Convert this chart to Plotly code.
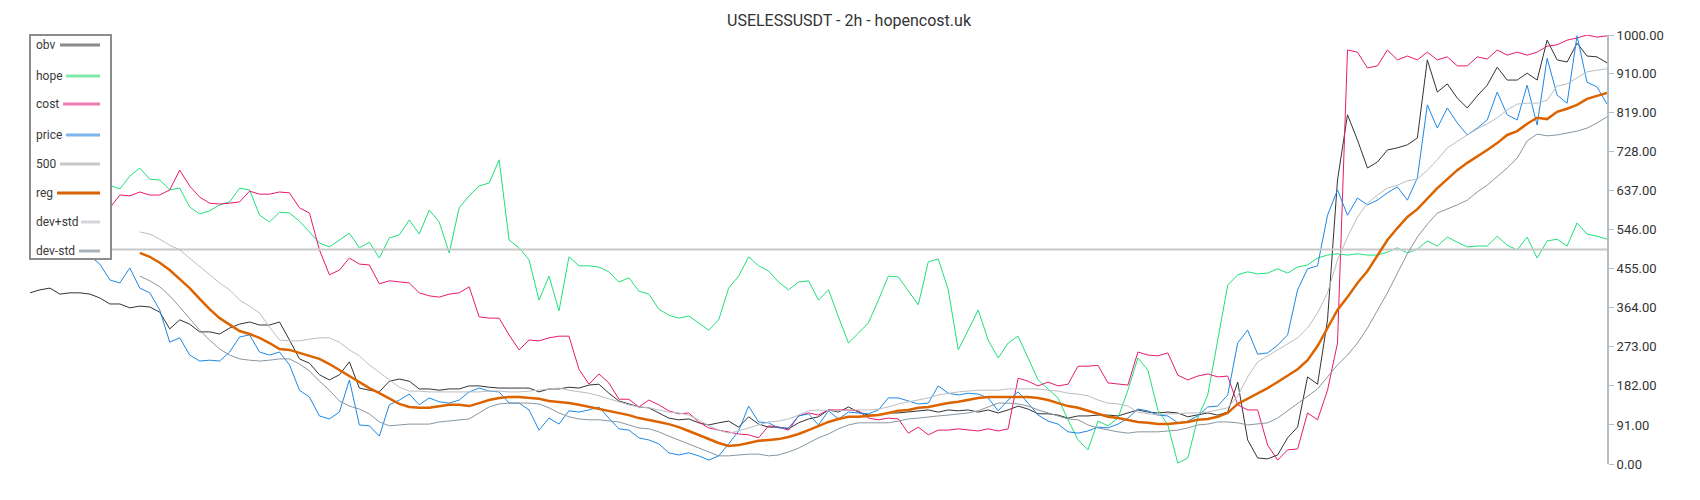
import plotly.graph_objects as go

TITLE = "USELESSUSDT - 2h - hopencost.uk"
TICK_VALUES = [0, 91, 182, 273, 364, 455, 546, 637, 728, 819, 910, 1000]
LEVEL = 500

obv = [399, 406, 410, 396, 399, 399, 396, 387, 373, 373,
       364, 368, 366, 354, 315, 336, 326, 308, 308, 303,
       317, 326, 331, 324, 324, 331, 289, 245, 235, 208,
       196, 208, 238, 177, 172, 168, 193, 198, 193, 175,
       175, 172, 175, 175, 182, 182, 179, 177, 177, 177,
       177, 168, 175, 175, 179, 177, 184, 186, 165, 147,
       140, 133, 131, 119, 107, 103, 105, 96, 91, 96,
       100, 86, 110, 93, 86, 86, 82, 96, 105, 110,
       126, 121, 133, 121, 114, 114, 119, 119, 121, 124,
       126, 121, 126, 124, 126, 121, 126, 119, 126, 135,
       128, 117, 117, 114, 107, 112, 112, 114, 114, 112,
       119, 126, 121, 119, 121, 119, 110, 114, 119, 114,
       121, 191, 56, 14, 12, 21, 61, 86, 203, 186,
       336, 662, 814, 755, 690, 704, 732, 737, 744, 760,
       942, 867, 886, 853, 830, 858, 883, 925, 895, 895,
       911, 895, 988, 942, 937, 981, 951, 949, 935]

hope = [674, 662, 681, 667, 650, 667, 657, 671, 650, 641,
        671, 690, 664, 662, 639, 643, 599, 583, 590, 604,
        611, 643, 639, 580, 564, 587, 585, 566, 541, 515,
        506, 522, 538, 504, 517, 480, 527, 534, 569, 536,
        592, 564, 492, 597, 625, 648, 655, 709, 522, 504,
        476, 382, 438, 357, 483, 462, 462, 459, 448, 424,
        434, 403, 396, 361, 347, 340, 345, 329, 312, 336,
        410, 438, 483, 462, 450, 424, 406, 424, 427, 382,
        406, 343, 282, 305, 329, 382, 438, 436, 403, 371,
        471, 478, 406, 266, 312, 359, 289, 247, 282, 298,
        247, 196, 175, 154, 103, 56, 33, 100, 89, 107,
        172, 247, 219, 126, 91, 2, 14, 107, 161, 289,
        417, 441, 448, 443, 445, 455, 445, 459, 464, 480,
        487, 490, 487, 490, 487, 487, 494, 504, 492, 501,
        520, 508, 529, 517, 506, 508, 508, 531, 510, 499,
        529, 480, 520, 524, 508, 562, 536, 531, 524]

cost = [615, 625, 611, 620, 627, 615, 606, 620, 597, 627,
        625, 634, 627, 627, 639, 685, 648, 622, 608, 606,
        608, 611, 636, 629, 629, 634, 632, 597, 585, 499,
        441, 452, 480, 466, 464, 420, 427, 424, 422, 399,
        392, 389, 396, 399, 413, 343, 340, 340, 301, 266,
        289, 287, 294, 298, 298, 221, 186, 210, 189, 151,
        151, 133, 149, 138, 124, 117, 119, 98, 84, 79,
        75, 70, 68, 61, 89, 86, 79, 112, 119, 114,
        126, 126, 126, 124, 107, 103, 107, 105, 72, 86,
        68, 79, 79, 82, 79, 77, 82, 77, 82, 200,
        193, 182, 191, 182, 186, 228, 228, 230, 189, 186,
        184, 261, 254, 252, 259, 207, 196, 205, 210, 203,
        205, 138, 126, 126, 44, 9, 33, 35, 119, 103,
        172, 282, 965, 960, 923, 928, 965, 942, 951, 942,
        960, 942, 949, 928, 928, 949, 944, 965, 953, 960,
        953, 960, 974, 977, 988, 993, 1000, 995, 998]

price = [499, 504, 494, 508, 499, 487, 485, 466, 429, 422,
         457, 410, 399, 359, 284, 294, 254, 240, 242, 240,
         261, 296, 301, 261, 254, 261, 231, 172, 156, 112,
         105, 121, 196, 91, 89, 65, 138, 149, 163, 138,
         154, 145, 142, 149, 168, 177, 170, 168, 142, 142,
         126, 79, 107, 93, 124, 121, 126, 133, 107, 82,
         79, 61, 56, 47, 26, 21, 26, 19, 9, 19,
         47, 77, 135, 98, 96, 84, 84, 112, 117, 91,
         124, 105, 121, 119, 117, 126, 154, 154, 147, 140,
         142, 182, 165, 161, 165, 163, 154, 124, 149, 168,
         142, 114, 100, 93, 75, 72, 77, 86, 84, 93,
         107, 128, 124, 114, 112, 96, 100, 112, 133, 135,
         161, 282, 312, 256, 259, 277, 301, 406, 455, 462,
         580, 639, 580, 620, 604, 615, 632, 646, 615, 667,
         837, 783, 830, 795, 767, 783, 802, 867, 814, 802,
         883, 790, 946, 860, 841, 998, 890, 879, 839]

reg = [492, 483, 469, 452, 431, 410, 385, 361, 340, 324,
       310, 303, 294, 282, 268, 266, 259, 252, 245, 233,
       219, 205, 191, 177, 165, 152, 140, 133, 131, 131,
       135, 138, 138, 135, 142, 149, 154, 156, 156, 154,
       152, 147, 145, 142, 138, 133, 128, 124, 119, 114,
       107, 103, 98, 93, 86, 77, 68, 58, 49, 42,
       44, 49, 54, 56, 58, 63, 70, 79, 89, 98,
       105, 110, 110, 112, 114, 119, 124, 126, 131, 133,
       138, 142, 145, 149, 154, 156, 156, 156, 156, 156,
       154, 149, 142, 135, 131, 124, 117, 110, 107, 103,
       98, 96, 93, 93, 96, 98, 103, 105, 110, 119,
       140, 152, 165, 177, 191, 205, 221, 242, 275, 317,
       359, 389, 422, 450, 487, 522, 550, 576, 594, 618,
       643, 664, 685, 702, 716, 732, 748, 767, 776, 793,
       807, 804, 821, 828, 837, 851, 858, 865]

dev_plus = [541, 536, 524, 510, 499, 480, 459, 441, 422, 406,
            382, 368, 352, 319, 289, 287, 287, 291, 294, 294,
            284, 266, 252, 231, 214, 196, 179, 170, 170, 168,
            168, 168, 168, 168, 168, 170, 170, 168, 168, 170,
            172, 175, 177, 172, 168, 165, 159, 152, 145, 138,
            133, 131, 126, 121, 119, 114, 103, 89, 79, 72,
            77, 84, 91, 98, 100, 105, 114, 124, 126, 124,
            124, 126, 126, 126, 128, 133, 140, 145, 149, 154,
            161, 165, 168, 170, 172, 172, 172, 175, 175, 175,
            175, 172, 170, 165, 163, 159, 149, 142, 140, 135,
            121, 117, 114, 117, 117, 119, 119, 121, 126, 131,
            159, 203, 238, 252, 268, 282, 294, 317, 352, 399,
            476, 529, 576, 608, 627, 643, 650, 660, 664, 685,
            709, 737, 753, 767, 781, 793, 807, 825, 839, 841,
            841, 848, 881, 886, 900, 914, 918, 921]

dev_minus = [438, 427, 413, 392, 366, 340, 312, 289, 268, 254,
             245, 242, 240, 242, 245, 245, 233, 217, 193, 172,
             147, 135, 128, 117, 98, 89, 91, 93, 93, 93,
             98, 100, 103, 105, 119, 133, 140, 142, 142, 142,
             140, 131, 119, 110, 105, 103, 103, 100, 98, 91,
             84, 82, 75, 65, 56, 47, 37, 28, 19, 19,
             21, 23, 23, 19, 21, 28, 37, 49, 61, 70,
             82, 91, 96, 96, 96, 96, 100, 105, 107, 110,
             112, 114, 117, 119, 124, 133, 142, 142, 140, 135,
             126, 119, 112, 105, 103, 91, 84, 79, 75, 72,
             75, 75, 75, 77, 79, 84, 91, 93, 98, 98,
             96, 91, 93, 96, 107, 124, 140, 159, 175, 203,
             231, 254, 282, 317, 357, 399, 445, 490, 529, 559,
             585, 594, 604, 615, 634, 650, 669, 690, 713, 753,
             769, 765, 767, 772, 776, 783, 795, 809]

N = len(obv)
level_line = [LEVEL] * N

FONT = "Roboto, 'Noto Sans', Arial, sans-serif"

# (name, values, colour, width, legend swatch colour)
series = [
    ("obv", obv, "#333333", 1, "#8a8a8a"),
    ("hope", hope, "#1fe07a", 1, "#7fe9aa"),
    ("cost", cost, "#e8196e", 1, "#f07ab6"),
    ("price", price, "#1e88e5", 1, "#7cb6ec"),
    ("500", level_line, "#c8c8c8", 2, "#c8c8c8"),
    ("reg", reg, "#dc6400", 2.5, "#d96300"),
    ("dev+std", dev_plus, "#b9bec3", 1, "#d2d6da"),
    ("dev-std", dev_minus, "#8896a0", 1, "#aab2ba"),
]

fig = go.Figure()
for name, vals, color, width, _ in series:
    off = N - len(vals)
    fig.add_trace(go.Scatter(
        x=list(range(off, N)), y=vals, mode="lines", name=name,
        line=dict(color=color, width=width), showlegend=False,
        hoverinfo="skip"))

# page body adds an 8px offset in the browser
OFF = 8
W, H = 1700, 500
L, R, T, B = 22, 101, 27, 44
PW, PH = W - L - R, H - T - B


def pxx(p):
    return (p - OFF - L) / PW


def pyy(p):
    return (H - B - (p - OFF)) / PH


shapes = [dict(type="rect", xref="paper", yref="paper",
               x0=pxx(30), x1=pxx(111), y0=pyy(259), y1=pyy(35),
               line=dict(color="#8c8c8c", width=2), fillcolor="white",
               layer="above")]
annotations = []
leg_y = [45, 76, 104, 135, 164, 193, 222, 251]
leg_x0 = [60, 66, 63, 66, 60, 57, 81, 79]
for (name, _, _, _, scol), yc, x0 in zip(series, leg_y, leg_x0):
    annotations.append(dict(xref="paper", yref="paper", x=pxx(34), y=pyy(yc),
                            xanchor="left", yanchor="middle", text=name,
                            showarrow=False,
                            font=dict(family=FONT, size=12, color="#3a3a3a")))
    shapes.append(dict(type="line", xref="paper", yref="paper",
                       x0=pxx(x0), x1=pxx(100), y0=pyy(yc), y1=pyy(yc),
                       line=dict(color=scol, width=3), layer="above"))

annotations.append(dict(xref="paper", yref="paper", x=pxx(849), y=pyy(21),
                        xanchor="center", yanchor="middle", text=TITLE,
                        showarrow=False,
                        font=dict(family=FONT, size=16, color="#333333")))

fig.update_layout(
    width=W, height=H,
    margin=dict(l=L, r=R, t=T, b=B, pad=0),
    paper_bgcolor="white", plot_bgcolor="white",
    font=dict(family=FONT, color="#333333"),
    xaxis=dict(range=[0, N - 1], visible=False, showgrid=False,
               zeroline=False),
    yaxis=dict(range=[0, 1000], side="right", showgrid=False,
               zeroline=False, showline=True, linecolor="#b3bdc5",
               linewidth=2, ticks="outside", ticklen=5, tickwidth=1,
               tickcolor="#b3bdc5", tickvals=TICK_VALUES,
               ticktext=[f"{v:.2f}" for v in TICK_VALUES],
               tickfont=dict(family=FONT, size=13, color="#333333")),
    shapes=shapes, annotations=annotations,
)

fig.write_html("out.html")
